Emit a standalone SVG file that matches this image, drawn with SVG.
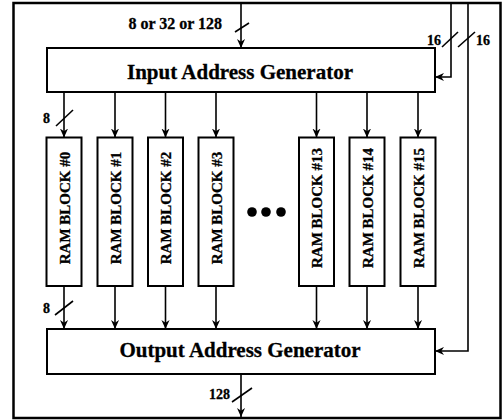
<svg xmlns="http://www.w3.org/2000/svg" width="502" height="420" viewBox="0 0 502 420">
  <style>
    .box { fill: #fff; stroke: #000; stroke-width: 2; }
    .frame { fill: none; stroke: #000; stroke-width: 2.5; }
    .wire { fill: none; stroke: #000; stroke-width: 1.6; }
    .bus { fill: none; stroke: #000; stroke-width: 1.6; }
    text { font-family: "Liberation Serif", "Times New Roman", serif; font-weight: bold; fill: #000; stroke: #000; stroke-width: 0.3; }
    .title { font-size: 21px; text-anchor: middle; }
    .ram { font-size: 15px; text-anchor: middle; }
    .lbl { font-size: 14px; }
  </style>
  <defs>
    <marker id="arr" viewBox="0 0 10 10" refX="10" refY="5" markerWidth="9" markerHeight="9" markerUnits="userSpaceOnUse" orient="auto">
      <path d="M0,0.5 L10,5 L0,9.5 L3,5 z" fill="#000"/>
    </marker>
  </defs>

  <rect width="502" height="420" fill="#fff"/>
  <rect class="frame" x="13.5" y="3" width="487" height="415"/>

  <g id="connectors">
    <!-- data input into the input generator -->
    <path class="wire" d="M241,3 V48" marker-end="url(#arr)"/>
    <!-- two 16-bit control buses on the right -->
    <path class="wire" d="M451,3 V77 H435" marker-end="url(#arr)"/>
    <path class="wire" d="M468,3 V351 H435" marker-end="url(#arr)"/>
    <!-- input generator to RAM blocks -->
    <path class="wire" d="M64,92 V137.5" marker-end="url(#arr)"/>
    <path class="wire" d="M115,92 V137.5" marker-end="url(#arr)"/>
    <path class="wire" d="M165.5,92 V137.5" marker-end="url(#arr)"/>
    <path class="wire" d="M216,92 V137.5" marker-end="url(#arr)"/>
    <path class="wire" d="M316.5,92 V137.5" marker-end="url(#arr)"/>
    <path class="wire" d="M367,92 V137.5" marker-end="url(#arr)"/>
    <path class="wire" d="M418,92 V137.5" marker-end="url(#arr)"/>
    <!-- RAM blocks to output generator -->
    <path class="wire" d="M64,286 V329" marker-end="url(#arr)"/>
    <path class="wire" d="M115,286 V329" marker-end="url(#arr)"/>
    <path class="wire" d="M165.5,286 V329" marker-end="url(#arr)"/>
    <path class="wire" d="M216,286 V329" marker-end="url(#arr)"/>
    <path class="wire" d="M316.5,286 V329" marker-end="url(#arr)"/>
    <path class="wire" d="M367,286 V329" marker-end="url(#arr)"/>
    <path class="wire" d="M418,286 V329" marker-end="url(#arr)"/>
    <!-- data output -->
    <path class="wire" d="M241,374 V417" marker-end="url(#arr)"/>

    <!-- bus width slashes -->
    <path class="bus" d="M235,32 L249,23"/>
    <path class="bus" d="M442,47 L458,32"/>
    <path class="bus" d="M458,47 L475,32"/>
    <path class="bus" d="M56,126 L73,110"/>
    <path class="bus" d="M55,315 L73,301"/>
    <path class="bus" d="M232,402 L252,388"/>

    <text class="lbl" x="222" y="29" text-anchor="end" style="font-size:16px">8 or 32 or 128</text>
    <text class="lbl" x="441" y="45" text-anchor="end">16</text>
    <text class="lbl" x="476" y="45">16</text>
    <text class="lbl" x="43" y="123">8</text>
    <text class="lbl" x="43" y="313">8</text>
    <text class="lbl" x="230" y="399" text-anchor="end">128</text>
  </g>

  <g id="input-address-generator">
    <rect class="box" x="47" y="48" width="388" height="44"/>
    <text class="title" x="240" y="79">Input Address Generator</text>
  </g>

  <g id="ram-block-0">
    <rect class="box" x="46.5" y="137.5" width="35" height="148.5"/>
    <text class="ram" transform="translate(69.5,208) rotate(-90)">RAM BLOCK #0</text>
  </g>
  <g id="ram-block-1">
    <rect class="box" x="97.5" y="137.5" width="35" height="148.5"/>
    <text class="ram" transform="translate(120.5,208) rotate(-90)">RAM BLOCK #1</text>
  </g>
  <g id="ram-block-2">
    <rect class="box" x="148" y="137.5" width="35" height="148.5"/>
    <text class="ram" transform="translate(171,208) rotate(-90)">RAM BLOCK #2</text>
  </g>
  <g id="ram-block-3">
    <rect class="box" x="198.5" y="137.5" width="35" height="148.5"/>
    <text class="ram" transform="translate(221.5,208) rotate(-90)">RAM BLOCK #3</text>
  </g>
  <g id="ellipsis">
    <circle cx="252" cy="212" r="4.8"/>
    <circle cx="266" cy="212" r="4.8"/>
    <circle cx="281" cy="212" r="4.8"/>
  </g>
  <g id="ram-block-13">
    <rect class="box" x="299" y="137.5" width="35" height="148.5"/>
    <text class="ram" transform="translate(322,208) rotate(-90)">RAM BLOCK #13</text>
  </g>
  <g id="ram-block-14">
    <rect class="box" x="349.5" y="137.5" width="35" height="148.5"/>
    <text class="ram" transform="translate(372.5,208) rotate(-90)">RAM BLOCK #14</text>
  </g>
  <g id="ram-block-15">
    <rect class="box" x="400.5" y="137.5" width="35" height="148.5"/>
    <text class="ram" transform="translate(423.5,208) rotate(-90)">RAM BLOCK #15</text>
  </g>

  <g id="output-address-generator">
    <rect class="box" x="47" y="329" width="388" height="45"/>
    <text class="title" x="240" y="357">Output Address Generator</text>
  </g>
</svg>
